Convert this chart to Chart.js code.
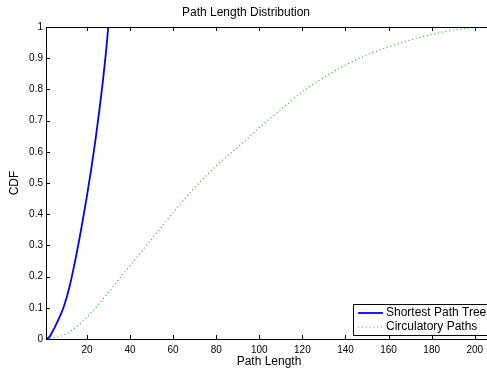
<!DOCTYPE html>
<html>
<head>
<meta charset="utf-8">
<script src="https://cdn.jsdelivr.net/npm/chart.js@4"></script>
<style>
  html, body { margin: 0; padding: 0; overflow: hidden; background: #fff; }
  #box { width: 492px; height: 374px; position: relative; }
</style>
</head>
<body>
<div id="box"><canvas id="cdf"></canvas></div>
<script>
// valores
const shortestX = [1, 2.5, 4.5, 6.8, 9.1, 12.0, 14.8, 17.4, 19.8, 22.0, 24.0, 25.8, 27.3, 28.7, 29.9];
const shortestY = [0, 0.006, 0.03, 0.063, 0.1, 0.17, 0.26, 0.355, 0.45, 0.545, 0.64, 0.735, 0.82, 0.91, 1.0];

const circX = [1, 5, 10, 15, 20, 25, 30, 40, 50, 60, 70, 80, 90, 100, 110, 120, 130, 140, 150, 160, 170, 180, 190, 200, 205];
const circY = [0, 0.004, 0.015, 0.038, 0.07, 0.108, 0.15, 0.235, 0.32, 0.405, 0.485, 0.555, 0.615, 0.677, 0.735, 0.793, 0.838, 0.878, 0.91, 0.936, 0.958, 0.976, 0.99, 0.998, 1.0];

const xTicks = [20, 40, 60, 80, 100, 120, 140, 160, 180, 200];
const yTicks = [0, 0.1, 0.2, 0.3, 0.4, 0.5, 0.6, 0.7, 0.8, 0.9, 1];

const labels = ["Shortest Path Tree", "Circulatory Paths"];

function pts(xs, ys) {
  return xs.map((x, i) => ({ x: x, y: ys[i] }));
}

// moldura estilo matlab: caixa, ticks pra dentro, legenda no canto
const matlabFrame = {
  id: "matlabFrame",
  afterDatasetsDraw(chart) {
    const ctx = chart.ctx;
    const a = chart.chartArea;
    const xs = chart.scales.x;
    const ys = chart.scales.y;
    ctx.save();
    ctx.strokeStyle = "#000";
    ctx.lineWidth = 1;
    ctx.beginPath();
    xTicks.forEach((t) => {
      const px = Math.round(xs.getPixelForValue(t)) + 0.5;
      ctx.moveTo(px, a.bottom); ctx.lineTo(px, a.bottom - 4);
      ctx.moveTo(px, a.top); ctx.lineTo(px, a.top + 4);
    });
    yTicks.forEach((t) => {
      const py = Math.round(ys.getPixelForValue(t)) + 0.5;
      ctx.moveTo(a.left, py); ctx.lineTo(a.left + 4, py);
      ctx.moveTo(a.right, py); ctx.lineTo(a.right - 4, py);
    });
    ctx.stroke();
    ctx.strokeRect(Math.round(a.left) + 0.5, Math.round(a.top) + 0.5, Math.round(a.right - a.left), Math.round(a.bottom - a.top));

    // legenda
    const lx = 353, ly = 304, lw = a.right - 3 - lx, lh = 31;
    ctx.fillStyle = "#fff";
    ctx.fillRect(lx, ly, lw, lh);
    ctx.strokeRect(lx + 0.5, ly + 0.5, lw, lh);
    ctx.font = "12px 'Liberation Sans', Arial, sans-serif";
    ctx.textBaseline = "middle";
    chart.data.datasets.forEach((ds, i) => {
      const cy = ly + 9 + i * 14;
      ctx.strokeStyle = ds.borderColor;
      ctx.lineWidth = ds.borderWidth;
      ctx.setLineDash(ds.borderDash || []);
      ctx.beginPath();
      ctx.moveTo(lx + 5, cy);
      ctx.lineTo(lx + 30, cy);
      ctx.stroke();
      ctx.setLineDash([]);
      ctx.fillStyle = "#000";
      ctx.fillText(ds.label, lx + 33, cy);
    });
    ctx.restore();
  },
};

new Chart(document.getElementById("cdf"), {
  type: "line",
  data: {
    datasets: [
      {
        label: labels[0],
        data: pts(shortestX, shortestY),
        borderColor: "rgb(0,0,255)",
        borderWidth: 1.8,
        pointRadius: 0,
        cubicInterpolationMode: "monotone",
      },
      {
        label: labels[1],
        data: pts(circX, circY),
        borderColor: "rgb(80,180,80)",
        borderWidth: 1.2,
        borderDash: [1.2, 2.6],
        pointRadius: 0,
        cubicInterpolationMode: "monotone",
      },
    ],
  },
  options: {
    responsive: true,
    maintainAspectRatio: false,
    animation: false,
    layout: { padding: 0 },
    plugins: {
      legend: { display: false },
      tooltip: { enabled: false },
      title: {
        display: true,
        text: "Path Length Distribution",
        color: "#000",
        font: { family: "'Liberation Sans', Arial, sans-serif", size: 12, weight: "normal" },
        padding: { top: 5, bottom: 7.6 },
      },
    },
    scales: {
      x: {
        type: "linear",
        min: 1,
        max: 208,
        afterBuildTicks: (s) => { s.ticks = xTicks.map((v) => ({ value: v })); },
        afterFit: (s) => { s.height = 35; },
        grid: { display: false, drawTicks: false },
        border: { display: false },
        ticks: {
          color: "#000",
          padding: 5,
          maxRotation: 0,
          font: { family: "'Liberation Sans', Arial, sans-serif", size: 10 },
        },
        title: {
          display: true,
          text: "Path Length",
          color: "#000",
          font: { family: "'Liberation Sans', Arial, sans-serif", size: 12 },
          padding: { top: 0, bottom: 5 },
        },
      },
      y: {
        type: "linear",
        min: 0,
        max: 1,
        afterBuildTicks: (s) => { s.ticks = yTicks.map((v) => ({ value: v })); },
        afterFit: (s) => { s.width = 46; },
        grid: { display: false, drawTicks: false },
        border: { display: false },
        ticks: {
          color: "#000",
          padding: 3,
          font: { family: "'Liberation Sans', Arial, sans-serif", size: 10 },
          callback: (v) => String(Math.round(v * 10) / 10),
        },
        title: {
          display: true,
          text: "CDF",
          color: "#000",
          font: { family: "'Liberation Sans', Arial, sans-serif", size: 12 },
          padding: { top: 7, bottom: 0 },
        },
      },
    },
  },
  plugins: [matlabFrame],
});
</script>
</body>
</html>
